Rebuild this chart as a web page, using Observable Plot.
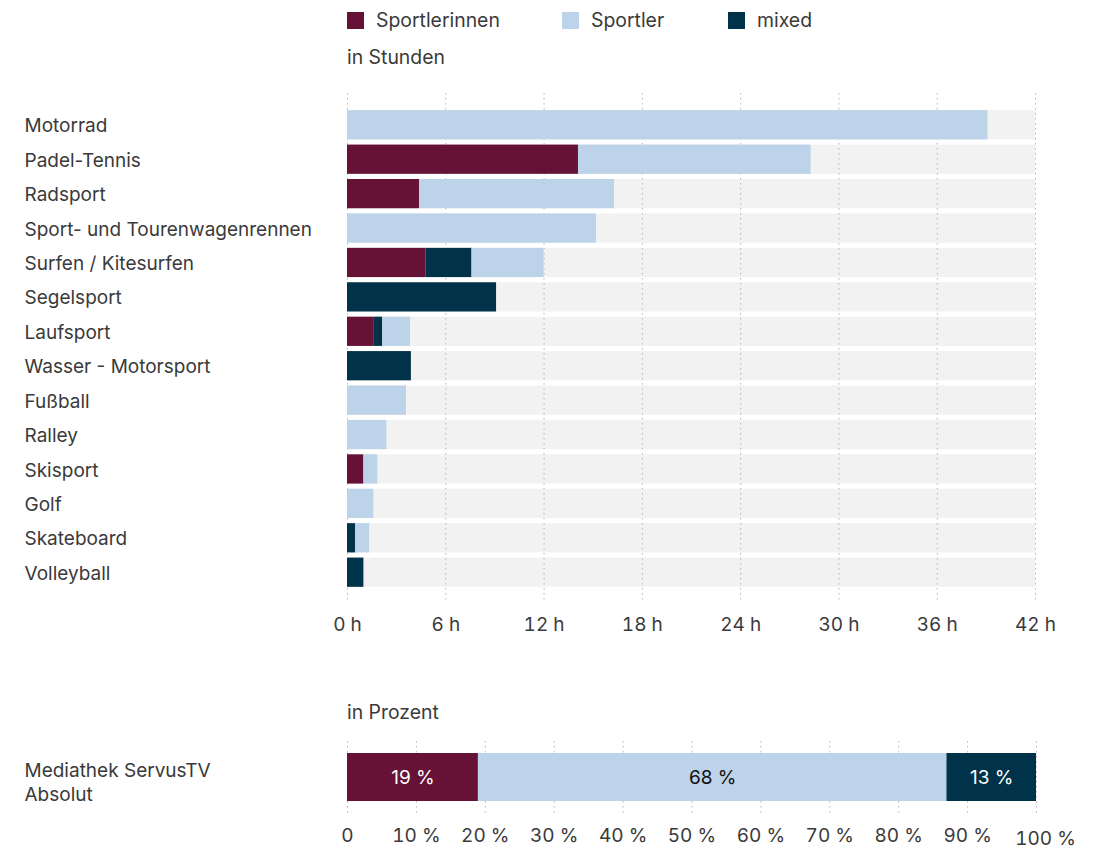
<!DOCTYPE html>
<html><head><meta charset="utf-8">
<script src="https://cdn.jsdelivr.net/npm/d3@7"></script>
<script src="https://cdn.jsdelivr.net/npm/@observablehq/plot@0.6"></script>
<style>
body{margin:0;background:#fff;font-family:Inter,"Noto Sans",sans-serif;color:#3a3a3a;}
#wrap{position:relative;width:1094px;height:849px;overflow:hidden}
.legend-item{position:absolute;top:10px;font-size:19.4px;line-height:20px;display:flex;align-items:center;white-space:nowrap}
.sw{width:17px;height:17px;display:inline-block;margin-right:12px}
.unit{position:absolute;left:347px;font-size:19.4px;line-height:20px}
</style></head>
<body><div id="wrap"></div>
<script>
// ---- data ----
const groups = ["Sportlerinnen", "mixed", "Sportler"];
const legendOrder = ["Sportlerinnen", "Sportler", "mixed"];
const groupColors = {"Sportlerinnen": "#651236", "Sportler": "#bdd3e9", "mixed": "#003349"};
const sports = ["Motorrad","Padel-Tennis","Radsport","Sport- und Tourenwagenrennen","Surfen / Kitesurfen","Segelsport","Laufsport","Wasser - Motorsport","Fußball","Ralley","Skisport","Golf","Skateboard","Volleyball"];
const sportlerinnen = [0, 14.1, 4.4, 0, 4.8, 0, 1.6, 0, 0, 0, 1.0, 0, 0, 0];
const mixed =         [0, 0, 0, 0, 2.8, 9.1, 0.55, 3.9, 0, 0, 0, 0, 0.5, 1.0];
const sportler =      [39.1, 14.2, 11.9, 15.2, 4.4, 0, 1.7, 0, 3.6, 2.4, 0.85, 1.6, 0.85, 0];
const hourTicks = [0, 6, 12, 18, 24, 30, 36, 42];
const hourMax = 42;

const mediaLabel = "Mediathek ServusTV\nAbsolut";
const shareGroups = ["Sportlerinnen", "Sportler", "mixed"];
const shareValues = [19, 68, 13];
const pctTicks = [0, 10, 20, 30, 40, 50, 60, 70, 80, 90, 100];

// ---- build tables ----
const seriesByGroup = {"Sportlerinnen": sportlerinnen, "mixed": mixed, "Sportler": sportler};
const hours = [];
sports.forEach((s, i) => groups.forEach(g => hours.push({sport: s, group: g, value: seriesByGroup[g][i]})));
const shares = shareGroups.map((g, i) => ({label: mediaLabel, group: g, value: shareValues[i]}));

const wrap = document.getElementById("wrap");
const font = "Inter, 'Noto Sans', sans-serif";
const textColor = "#3a3a3a";
const fs = 19;

// legend
const legendX = {"Sportlerinnen": 347, "Sportler": 562, "mixed": 728};
legendOrder.forEach(g => {
  const d = document.createElement("div");
  d.className = "legend-item";
  d.style.left = legendX[g] + "px";
  d.innerHTML = `<span class="sw" style="background:${groupColors[g]}"></span><span>${g}</span>`;
  wrap.appendChild(d);
});
const u1 = document.createElement("div");
u1.className = "unit"; u1.style.top = "47px"; u1.textContent = "in Stunden";
wrap.appendChild(u1);

const colorScale = {domain: groups, range: groups.map(g => groupColors[g])};

// chart 1
const chart1 = Plot.plot({
  width: 1094, height: 650,
  marginLeft: 347, marginRight: 59, marginTop: 93, marginBottom: 47,
  style: {fontFamily: font, fontSize: fs + "px", color: textColor, background: "transparent"},
  x: {domain: [0, hourMax], label: null},
  y: {domain: sports, padding: 0.15, round: false, insetTop: 12, insetBottom: 11, axis: null},
  color: colorScale,
  marks: [
    Plot.barX(sports, {x1: 0, x2: hourMax, y: d => d, fill: "#f2f2f2"}),
    Plot.ruleX(hourTicks, {stroke: "#b5b5b5", strokeWidth: 1, strokeDasharray: "1.5,3.5"}),
    Plot.barX(hours, Plot.stackX({x: "value", y: "sport", fill: "group", z: "group", order: groups})),
    Plot.text(sports, {y: d => d, text: d => d, frameAnchor: "left", textAnchor: "start", dx: -323, dy: 1, fontSize: fs, fill: textColor}),
    Plot.axisX({ticks: hourTicks, tickFormat: d => d + " h", tickSize: 0, tickPadding: 14, label: null, fontSize: fs, fontFamily: font, fill: textColor})
  ]
});
chart1.style.position = "absolute"; chart1.style.left = "0px"; chart1.style.top = "0px";
wrap.appendChild(chart1);

const u2 = document.createElement("div");
u2.className = "unit"; u2.style.top = "702px"; u2.textContent = "in Prozent";
wrap.appendChild(u2);

// chart 2
const chart2 = Plot.plot({
  width: 1094, height: 159,
  marginLeft: 347, marginRight: 58, marginTop: 51, marginBottom: 34,
  style: {fontFamily: font, fontSize: fs + "px", color: textColor, background: "transparent"},
  x: {domain: [0, 100], label: null},
  y: {domain: [mediaLabel], padding: 0, round: false, insetTop: 12, insetBottom: 14, axis: null},
  color: colorScale,
  marks: [
    Plot.ruleX(pctTicks, {stroke: "#b5b5b5", strokeWidth: 1, strokeDasharray: "1.5,3.5"}),
    Plot.barX(shares, Plot.stackX({x: "value", y: "label", fill: "group", z: "group", order: shareGroups})),
    Plot.text(shares, Plot.stackX({x: "value", y: "label", z: "group", order: shareGroups,
      text: d => d.group === "Sportler" ? "" : d.value + " %", fill: "#ffffff", fontSize: fs, fontFamily: font})),
    Plot.text(shares, Plot.stackX({x: "value", y: "label", z: "group", order: shareGroups,
      text: d => d.group === "Sportler" ? d.value + " %" : "", fill: "#111111", fontSize: fs, fontFamily: font})),
    Plot.text([mediaLabel], {y: d => d, text: d => d, frameAnchor: "left", textAnchor: "start", dx: -323, dy: 4, lineHeight: 1.25, fontSize: fs, fill: textColor}),
    Plot.axisX(pctTicks.filter(t => t < 100), {tickFormat: d => d === 0 ? "0" : d + " %", tickSize: 0, tickPadding: 13, label: null, fontSize: fs, fontFamily: font, fill: textColor}),
    Plot.axisX([100], {tickFormat: d => d + " %", tickSize: 0, tickPadding: 16, dx: 9, label: null, fontSize: fs, fontFamily: font, fill: textColor})
  ]
});
chart2.style.position = "absolute"; chart2.style.left = "0px"; chart2.style.top = "690px";
wrap.appendChild(chart2);
</script>
</body></html>
